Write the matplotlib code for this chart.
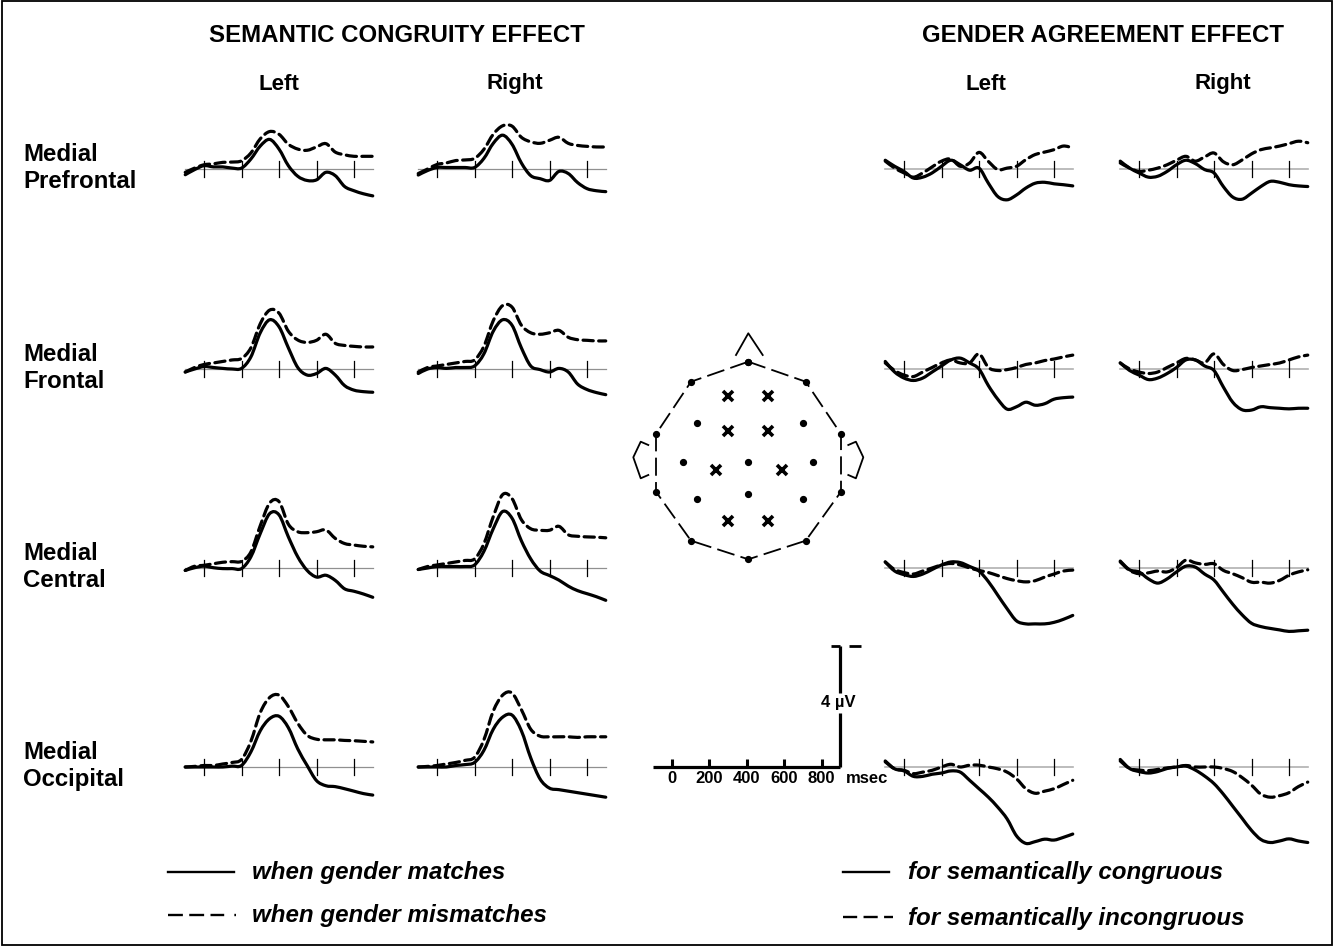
import matplotlib

matplotlib.use("Agg")
import matplotlib.pyplot as plt
from matplotlib.patches import Rectangle, PathPatch
from matplotlib.path import Path

plt.rcParams["font.family"] = ["Liberation Sans", "DejaVu Sans"]
plt.rcParams["font.weight"] = "bold"

W, H = 1333, 946
MS_PX = 37.5 / 200.0   # pixels per millisecond
UV_PX = 30.2           # pixels per microvolt

# ---------------------------------------------------------------- data
TIMES_MS = [-100, -50, 0, 50, 100, 150, 200, 250, 300, 350, 400,
            450, 500, 550, 600, 650, 700, 750, 800, 850, 900]
TICKS_MS = [0, 200, 400, 600, 800]
SCALE_LABELS = ["0", "200", "400", "600", "800"]
SCALE_UV = 4

ROW_NAMES = ["Medial\nPrefrontal", "Medial\nFrontal", "Medial\nCentral", "Medial\nOccipital"]
SIDES = ["Left", "Right"]

# semantic congruity effect: solid = gender matches, dashed = gender mismatches
sem_left_pf_match = [-0.19, -0.02, 0.11, 0.07, 0.07, 0.03, 0.03, 0.33, 0.76, 0.98, 0.66,
                     0.11, -0.24, -0.38, -0.36, -0.11, -0.22, -0.58, -0.72, -0.82, -0.89]
sem_left_pf_mismatch = [-0.11, 0.03, 0.14, 0.17, 0.22, 0.23, 0.27, 0.53, 1.0, 1.24, 1.15,
                        0.82, 0.66, 0.62, 0.73, 0.84, 0.56, 0.47, 0.42, 0.42, 0.42]
sem_right_pf_match = [-0.2, -0.05, 0.05, 0.05, 0.05, 0.05, 0.05, 0.35, 0.85, 1.12, 0.82,
                      0.2, -0.22, -0.32, -0.38, -0.08, -0.15, -0.45, -0.65, -0.72, -0.75]
sem_right_pf_mismatch = [-0.15, 0.0, 0.15, 0.2, 0.28, 0.3, 0.35, 0.65, 1.15, 1.43, 1.42,
                         1.05, 0.9, 0.85, 0.95, 1.05, 0.85, 0.78, 0.75, 0.73, 0.73]
sem_left_f_match = [-0.1, 0.0, 0.08, 0.05, 0.02, 0.0, 0.02, 0.4, 1.2, 1.63, 1.4,
                    0.7, 0.05, -0.2, -0.15, 0.02, -0.2, -0.55, -0.7, -0.75, -0.77]
sem_left_f_mismatch = [-0.1, 0.05, 0.15, 0.2, 0.25, 0.3, 0.35, 0.7, 1.5, 1.95, 1.85,
                       1.25, 0.96, 0.88, 0.95, 1.15, 0.85, 0.78, 0.75, 0.73, 0.73]
sem_right_f_match = [-0.15, 0.0, 0.05, 0.02, 0.05, 0.05, 0.1, 0.5, 1.25, 1.63, 1.45,
                     0.7, 0.1, -0.02, -0.1, 0.02, -0.1, -0.5, -0.68, -0.78, -0.85]
sem_right_f_mismatch = [-0.1, 0.05, 0.1, 0.15, 0.2, 0.25, 0.3, 0.75, 1.6, 2.1, 2.05,
                        1.45, 1.2, 1.15, 1.2, 1.28, 1.05, 0.97, 0.95, 0.93, 0.93]
sem_left_c_match = [-0.08, 0.01, 0.06, 0.01, -0.02, -0.02, -0.02, 0.37, 1.14, 1.8, 1.76,
                    1.03, 0.37, -0.08, -0.3, -0.24, -0.41, -0.69, -0.77, -0.86, -0.97]
sem_left_c_mismatch = [-0.08, 0.06, 0.09, 0.14, 0.19, 0.21, 0.22, 0.53, 1.4, 2.15, 2.2,
                       1.45, 1.2, 1.17, 1.2, 1.26, 0.98, 0.81, 0.76, 0.72, 0.7]
sem_right_c_match = [-0.05, 0.0, 0.05, 0.05, 0.05, 0.05, 0.1, 0.55, 1.3, 1.87, 1.65,
                     0.9, 0.3, -0.1, -0.25, -0.4, -0.6, -0.75, -0.85, -0.95, -1.07]
sem_right_c_mismatch = [-0.05, 0.05, 0.1, 0.15, 0.2, 0.25, 0.3, 0.8, 1.7, 2.43, 2.3,
                        1.6, 1.3, 1.25, 1.25, 1.38, 1.1, 1.05, 1.03, 1.02, 1.0]
sem_left_o_match = [0.0, 0.0, 0.0, 0.0, 0.0, 0.03, 0.05, 0.5, 1.2, 1.6, 1.68,
                    1.3, 0.6, 0.05, -0.45, -0.62, -0.65, -0.72, -0.8, -0.88, -0.93]
sem_left_o_mismatch = [0.0, 0.02, 0.05, 0.05, 0.1, 0.15, 0.25, 0.85, 1.8, 2.3, 2.38,
                       2.0, 1.45, 1.05, 0.92, 0.9, 0.9, 0.88, 0.87, 0.85, 0.83]
sem_right_o_match = [0.0, 0.0, 0.0, 0.0, 0.05, 0.08, 0.15, 0.55, 1.25, 1.65, 1.72,
                     1.2, 0.3, -0.4, -0.7, -0.75, -0.8, -0.85, -0.9, -0.95, -1.0]
sem_right_o_mismatch = [0.0, 0.02, 0.05, 0.1, 0.15, 0.22, 0.32, 0.9, 1.85, 2.38, 2.45,
                        1.9, 1.25, 1.02, 1.0, 1.0, 1.0, 0.98, 1.0, 1.0, 1.0]

# gender agreement effect: solid = semantically congruous, dashed = incongruous
gen_left_pf_cong = [0.29, 0.09, -0.08, -0.3, -0.27, -0.13, 0.09, 0.29, 0.14, -0.04, 0.03,
                    -0.47, -0.91, -1.02, -0.86, -0.63, -0.47, -0.44, -0.49, -0.52, -0.56]
gen_left_pf_incong = [0.26, 0.03, -0.13, -0.27, -0.13, 0.07, 0.26, 0.33, 0.09, 0.2, 0.55,
                      0.25, -0.02, 0.03, 0.09, 0.31, 0.48, 0.56, 0.64, 0.76, 0.7]
gen_right_pf_cong = [0.26, 0.03, -0.13, -0.27, -0.24, -0.08, 0.14, 0.29, 0.18, -0.02, -0.13,
                     -0.58, -0.93, -1.0, -0.8, -0.58, -0.41, -0.44, -0.52, -0.56, -0.58]
gen_right_pf_incong = [0.2, 0.03, -0.08, -0.04, 0.03, 0.14, 0.29, 0.42, 0.26, 0.4, 0.53,
                       0.24, 0.14, 0.3, 0.5, 0.64, 0.7, 0.76, 0.84, 0.92, 0.87]
gen_left_f_cong = [0.25, -0.1, -0.3, -0.38, -0.3, -0.1, 0.1, 0.3, 0.36, 0.2, 0.0,
                   -0.55, -1.0, -1.33, -1.25, -1.1, -1.2, -1.15, -1.0, -0.95, -0.93]
gen_left_f_incong = [0.2, -0.05, -0.2, -0.25, -0.1, 0.05, 0.2, 0.3, 0.2, 0.2, 0.5,
                     0.05, -0.05, -0.02, 0.05, 0.15, 0.2, 0.28, 0.33, 0.4, 0.46]
gen_right_f_cong = [0.2, -0.05, -0.2, -0.35, -0.3, -0.15, 0.05, 0.3, 0.3, 0.1, -0.05,
                    -0.6, -1.1, -1.35, -1.36, -1.25, -1.28, -1.3, -1.32, -1.3, -1.3]
gen_right_f_incong = [0.2, 0.0, -0.1, -0.15, -0.1, 0.05, 0.2, 0.35, 0.3, 0.2, 0.5,
                      0.15, -0.05, -0.02, 0.05, 0.1, 0.15, 0.2, 0.3, 0.4, 0.46]
gen_left_c_cong = [0.2, -0.1, -0.22, -0.28, -0.2, -0.05, 0.1, 0.2, 0.18, 0.05, -0.1,
                   -0.45, -0.9, -1.35, -1.75, -1.85, -1.85, -1.85, -1.8, -1.7, -1.57]
gen_left_c_incong = [0.2, -0.05, -0.15, -0.2, -0.1, 0.0, 0.1, 0.15, 0.1, 0.0, -0.08,
                     -0.15, -0.25, -0.35, -0.42, -0.46, -0.42, -0.3, -0.2, -0.1, -0.07]
gen_right_c_cong = [0.23, -0.06, -0.13, -0.36, -0.5, -0.36, -0.13, 0.06, 0.03, -0.2, -0.4,
                    -0.8, -1.2, -1.55, -1.83, -1.94, -2.0, -2.05, -2.1, -2.08, -2.06]
gen_right_c_incong = [0.2, -0.08, -0.19, -0.16, -0.1, -0.13, 0.01, 0.26, 0.17, 0.12, 0.14,
                      -0.08, -0.19, -0.32, -0.47, -0.47, -0.5, -0.41, -0.24, -0.13, -0.06]
gen_left_o_cong = [0.2, -0.06, -0.13, -0.31, -0.31, -0.24, -0.2, -0.13, -0.17, -0.44, -0.72,
                   -1.0, -1.33, -1.72, -2.28, -2.53, -2.47, -2.39, -2.42, -2.33, -2.22]
gen_left_o_incong = [0.17, -0.06, -0.11, -0.22, -0.17, -0.11, 0.0, 0.09, 0.0, 0.06, 0.06,
                     0.0, -0.06, -0.17, -0.39, -0.72, -0.87, -0.8, -0.72, -0.58, -0.44]
gen_right_o_cong = [0.25, -0.05, -0.15, -0.2, -0.15, -0.05, 0.0, 0.03, -0.1, -0.3, -0.55,
                    -0.9, -1.3, -1.7, -2.1, -2.4, -2.5, -2.45, -2.38, -2.45, -2.5]
gen_right_o_incong = [0.2, -0.05, -0.1, -0.12, -0.08, -0.03, 0.0, 0.05, 0.0, 0.0, 0.0,
                      -0.05, -0.15, -0.35, -0.6, -0.9, -1.0, -0.95, -0.85, -0.65, -0.5]

# electrode montage (head-radius units, x right, y toward the nose)
HEAD_OUTLINE_X = [0.0, 0.574, 0.927, 0.927, 0.574, 0.0, -0.573, -0.923, -0.923, -0.573, 0.0]
HEAD_OUTLINE_Y = [1.0, 0.80, 0.277, -0.30, -0.79, -0.976, -0.79, -0.30, 0.277, 0.80, 1.0]
DOTS_X = [-0.51, 0.544, -0.65, 0.0, 0.65, -0.51, 0.0, 0.544]
DOTS_Y = [0.39, 0.39, 0.0, 0.0, 0.0, -0.376, -0.323, -0.376]
CROSS_X = [-0.2, 0.2, -0.2, 0.2, -0.323, 0.334, -0.2, 0.2]
CROSS_Y = [0.657, 0.657, 0.31, 0.31, -0.083, -0.083, -0.59, -0.59]
NOSE_X = [-0.123, 0.0, 0.144]
NOSE_Y = [1.067, 1.284, 1.067]
EAR_X = [-1.0, -1.076, -1.15, -1.076, -1.0]
EAR_Y = [0.167, 0.2, 0.044, -0.166, -0.133]

# ---------------------------------------------------------------- layout
ROW_BASE_Y = [169, 369, 568, 767]
SEM_X0 = [204, 437]
GEN_X0 = [904, 1139]
SCALE_X0, SCALE_Y0 = 671.7, 767

fig = plt.figure(figsize=(W / 100, H / 100), dpi=100)

bg = fig.add_axes([0, 0, 1, 1])
bg.set_xlim(0, W)
bg.set_ylim(H, 0)
bg.axis("off")
bg.add_patch(Rectangle((1.5, 1.5), W - 3, H - 3, fill=False, lw=1.3, color="black"))


def wave_axes(x0, y0, tmin=-110, tmax=910, vmin=-3.2, vmax=3.2):
    left = x0 + tmin * MS_PX
    width = (tmax - tmin) * MS_PX
    top = y0 - vmax * UV_PX
    height = (vmax - vmin) * UV_PX
    ax = fig.add_axes([left / W, 1 - (top + height) / H, width / W, height / H])
    ax.set_xlim(tmin, tmax)
    ax.set_ylim(vmin, vmax)
    ax.axis("off")
    return ax


def smooth_trace(ax, xs, ys, **kw):
    """Draw the sampled trace as a smooth curve through every sample point."""
    n = len(xs)
    verts = [(xs[0], ys[0])]
    codes = [Path.MOVETO]
    for i in range(n - 1):
        i0, i3 = max(i - 1, 0), min(i + 2, n - 1)
        c1 = (xs[i] + (xs[i + 1] - xs[i0]) / 6, ys[i] + (ys[i + 1] - ys[i0]) / 6)
        c2 = (xs[i + 1] - (xs[i3] - xs[i]) / 6, ys[i + 1] - (ys[i3] - ys[i]) / 6)
        verts += [c1, c2, (xs[i + 1], ys[i + 1])]
        codes += [Path.CURVE4] * 3
    ax.add_patch(PathPatch(Path(verts, codes), fill=False, edgecolor="black",
                           capstyle="round", joinstyle="round", **kw))


DASH = (0, (3.2, 1.7))


def draw_panel(x0, y0, solid, dashed, gender=False):
    ax = wave_axes(x0, y0)
    ax.plot([TIMES_MS[0], TIMES_MS[-1]], [0, 0],
            color="#b0b0b0" if gender else "#909090", lw=1.2 if gender else 0.9, zorder=1)
    for t in TICKS_MS:
        ax.plot([t, t], [-0.27, 0.27], color="black", lw=0.9, zorder=2)
    smooth_trace(ax, TIMES_MS, solid, lw=2.3, zorder=3)
    smooth_trace(ax, TIMES_MS, dashed, lw=2.3, linestyle=DASH, zorder=3)
    return ax


sem_panels = [
    [(sem_left_pf_match, sem_left_pf_mismatch), (sem_right_pf_match, sem_right_pf_mismatch)],
    [(sem_left_f_match, sem_left_f_mismatch), (sem_right_f_match, sem_right_f_mismatch)],
    [(sem_left_c_match, sem_left_c_mismatch), (sem_right_c_match, sem_right_c_mismatch)],
    [(sem_left_o_match, sem_left_o_mismatch), (sem_right_o_match, sem_right_o_mismatch)],
]
gen_panels = [
    [(gen_left_pf_cong, gen_left_pf_incong), (gen_right_pf_cong, gen_right_pf_incong)],
    [(gen_left_f_cong, gen_left_f_incong), (gen_right_f_cong, gen_right_f_incong)],
    [(gen_left_c_cong, gen_left_c_incong), (gen_right_c_cong, gen_right_c_incong)],
    [(gen_left_o_cong, gen_left_o_incong), (gen_right_o_cong, gen_right_o_incong)],
]

for r, y0 in enumerate(ROW_BASE_Y):
    for c in range(2):
        draw_panel(SEM_X0[c], y0, *sem_panels[r][c])
        draw_panel(GEN_X0[c], y0, *gen_panels[r][c], gender=True)
    bg.text(23, y0 - 1, ROW_NAMES[r], fontsize=17.3, ha="left", va="center",
            linespacing=1.25)

# titles
bg.text(397, 35, "SEMANTIC CONGRUITY EFFECT", fontsize=17.3, ha="center", va="center")
bg.text(1103, 35, "GENDER AGREEMENT EFFECT", fontsize=17.3, ha="center", va="center")
for x, side in zip([279, 515, 986, 1223], SIDES * 2):
    bg.text(x, 84, side, fontsize=16, ha="center", va="center")

# scale bar
sax = wave_axes(SCALE_X0, SCALE_Y0, tmin=-110, tmax=1150, vmin=-1.0, vmax=4.3)
sax.plot([TIMES_MS[0], TIMES_MS[-1]], [0, 0], color="black", lw=2.3, solid_capstyle="butt")
for t, lab in zip(TICKS_MS, SCALE_LABELS):
    sax.plot([t, t], [0, 0.25], color="black", lw=2.2, solid_capstyle="butt")
    sax.text(t, -0.38, lab, fontsize=12, ha="center", va="center")
sax.text(1040, -0.38, "msec", fontsize=12, ha="center", va="center")
sax.plot([900, 900], [0, 1.8], color="black", lw=2.3, solid_capstyle="butt")
sax.plot([900, 900], [2.45, SCALE_UV], color="black", lw=2.3, solid_capstyle="butt")
sax.plot([848, 900], [SCALE_UV, SCALE_UV], color="black", lw=2.0, solid_capstyle="butt")
sax.plot([945, 1010], [SCALE_UV, SCALE_UV], color="black", lw=2.0, solid_capstyle="butt")
sax.text(890, 2.15, "4 µV", fontsize=12, ha="center", va="center")

# head map
HEAD_CX, HEAD_CY, HEAD_R = 748.3, 461.7, 100.0
hax = fig.add_axes([(HEAD_CX - 1.3 * HEAD_R) / W, 1 - (HEAD_CY + 1.3 * HEAD_R) / H,
                    2.6 * HEAD_R / W, 2.6 * HEAD_R / H])
hax.set_xlim(-1.3, 1.3)
hax.set_ylim(-1.3, 1.3)
hax.axis("off")
hax.plot(HEAD_OUTLINE_X, HEAD_OUTLINE_Y, color="black", lw=1.3, linestyle=(0, (10, 3.5)))
hax.plot(HEAD_OUTLINE_X, HEAD_OUTLINE_Y, "o", color="black", ms=4.2, linestyle="none")
hax.plot(DOTS_X, DOTS_Y, "o", color="black", ms=4.2, linestyle="none")
hax.plot(CROSS_X, CROSS_Y, "x", color="black", ms=7, mew=2.6, linestyle="none")
hax.plot(NOSE_X, NOSE_Y, color="black", lw=1.3)
hax.plot(EAR_X, EAR_Y, color="black", lw=1.3)
hax.plot([-x for x in EAR_X], EAR_Y, color="black", lw=1.3)

# legends
bg.plot([168, 234], [872, 872], color="black", lw=1.7)
bg.plot([168, 236], [915, 915], color="black", lw=1.7,
        linestyle=(0, (6.3, 2.7, 6.3, 2.7, 5.8, 4.3, 1.4, 40)))
bg.text(252, 872, "when gender matches", fontsize=17.4, style="italic", ha="left", va="center")
bg.text(252, 915, "when gender mismatches", fontsize=17.4, style="italic", ha="left",
        va="center")
bg.plot([843, 889], [872, 872], color="black", lw=1.7)
bg.plot([843, 893], [917, 917], color="black", lw=1.7, linestyle=(0, (6.0, 2.7)))
bg.text(908, 872, "for semantically congruous", fontsize=17.4, style="italic", ha="left",
        va="center")
bg.text(908, 918, "for semantically incongruous", fontsize=17.4, style="italic", ha="left",
        va="center")

fig.savefig("out.png", dpi=100)
